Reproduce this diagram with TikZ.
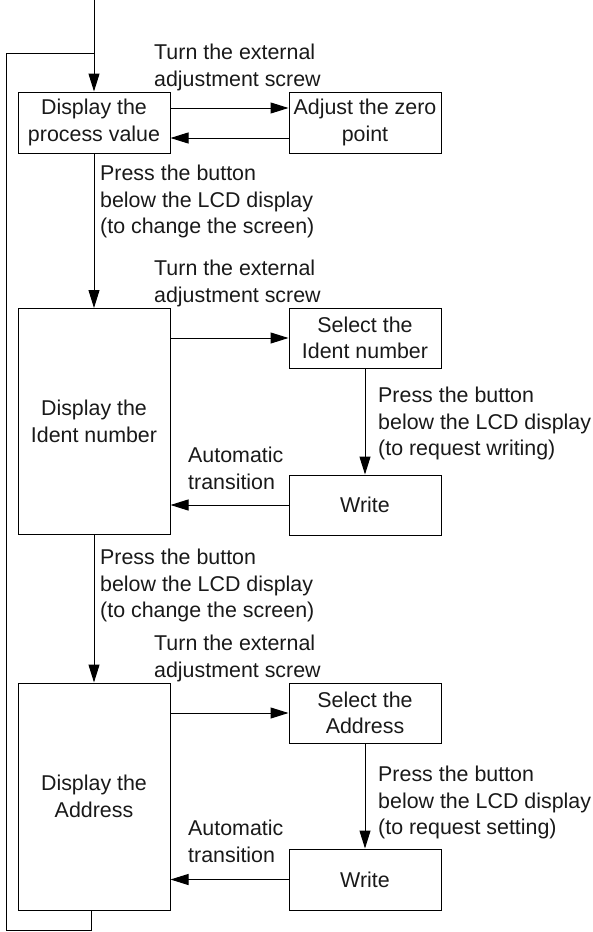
\documentclass[tikz,border=0pt]{standalone}
\usepackage{fontspec}
\setmainfont{Liberation Sans}
\usetikzlibrary{arrows.meta}

\begin{document}
\begin{tikzpicture}[x=1pt, y=-1pt,
    every node/.style={font=\fontsize{21.4}{26.5}\selectfont, text=black!90},
    box/.style={draw, line width=1pt, minimum width=152pt, inner sep=0pt, align=center},
    arr/.style={-{Triangle[length=18pt,width=11pt]}, line width=1pt},
    lbl/.style={anchor=north west, inner sep=0pt, align=left}]
    \useasboundingbox (0,0) rectangle (593,932);

    % Draw the boxes
    \node[box, minimum height=61pt] (disp) at (94,122.5) {Display the\\process value};
    \node[box, minimum height=61pt] (zero) at (365,122.5) {Adjust the zero\\point};
    \node[box, minimum height=226pt] (ident) at (94,421.5) {Display the\\Ident number};
    \node[box, minimum height=60pt] (selid) at (365,338) {Select the\\Ident number};
    \node[box, minimum height=60pt] (wrid) at (365,505) {Write};
    \node[box, minimum height=227pt] (addr) at (94,796.5) {Display the\\Address};
    \node[box, minimum height=60pt] (seladdr) at (365,713) {Select the\\Address};
    \node[box, minimum height=61pt] (wraddr) at (365,879.5) {Write};

    % Entry and loop points
    \coordinate (entry) at (94,0);
    \coordinate (join) at (94,53);
    \coordinate (corner) at (6,930);

    % Draw the arrows
    \draw[arr] (entry) -- (disp);
    \draw[arr] ([yshift=14.5pt]disp.east) -- ([yshift=14.5pt]zero.west);
    \draw[arr] ([yshift=-15.5pt]zero.west) -- ([yshift=-15.5pt]disp.east);
    \draw[arr] (disp) -- (ident);
    \draw[arr] (ident.east |- selid) -- (selid);
    \draw[arr] (selid) -- (wrid);
    \draw[arr] (wrid) -- (wrid -| ident.east);
    \draw[arr] (ident) -- (addr);
    \draw[arr] (addr.east |- seladdr) -- (seladdr);
    \draw[arr] (seladdr) -- (wraddr);
    \draw[arr] (wraddr) -- (wraddr -| addr.east);
    \draw[line width=1pt] ([xshift=-3pt]addr.south) |- (corner) |- (join);

    % Add the labels
    \node[lbl] (turn1) at (154,44) {Turn the external\\adjustment screw};
    \node[lbl] (press1) at (100,165) {Press the button\\below the LCD display\\(to change the screen)};
    \node[lbl] (turn2) at (154,260) {Turn the external\\adjustment screw};
    \node[lbl] (press2) at (378,387) {Press the button\\below the LCD display\\(to request writing)};
    \node[lbl] (auto1) at (188,447) {Automatic\\transition};
    \node[lbl] (press3) at (100,549) {Press the button\\below the LCD display\\(to change the screen)};
    \node[lbl] (turn3) at (154,635) {Turn the external\\adjustment screw};
    \node[lbl] (press4) at (378,766) {Press the button\\below the LCD display\\(to request setting)};
    \node[lbl] (auto2) at (188,820) {Automatic\\transition};
\end{tikzpicture}
\end{document}
